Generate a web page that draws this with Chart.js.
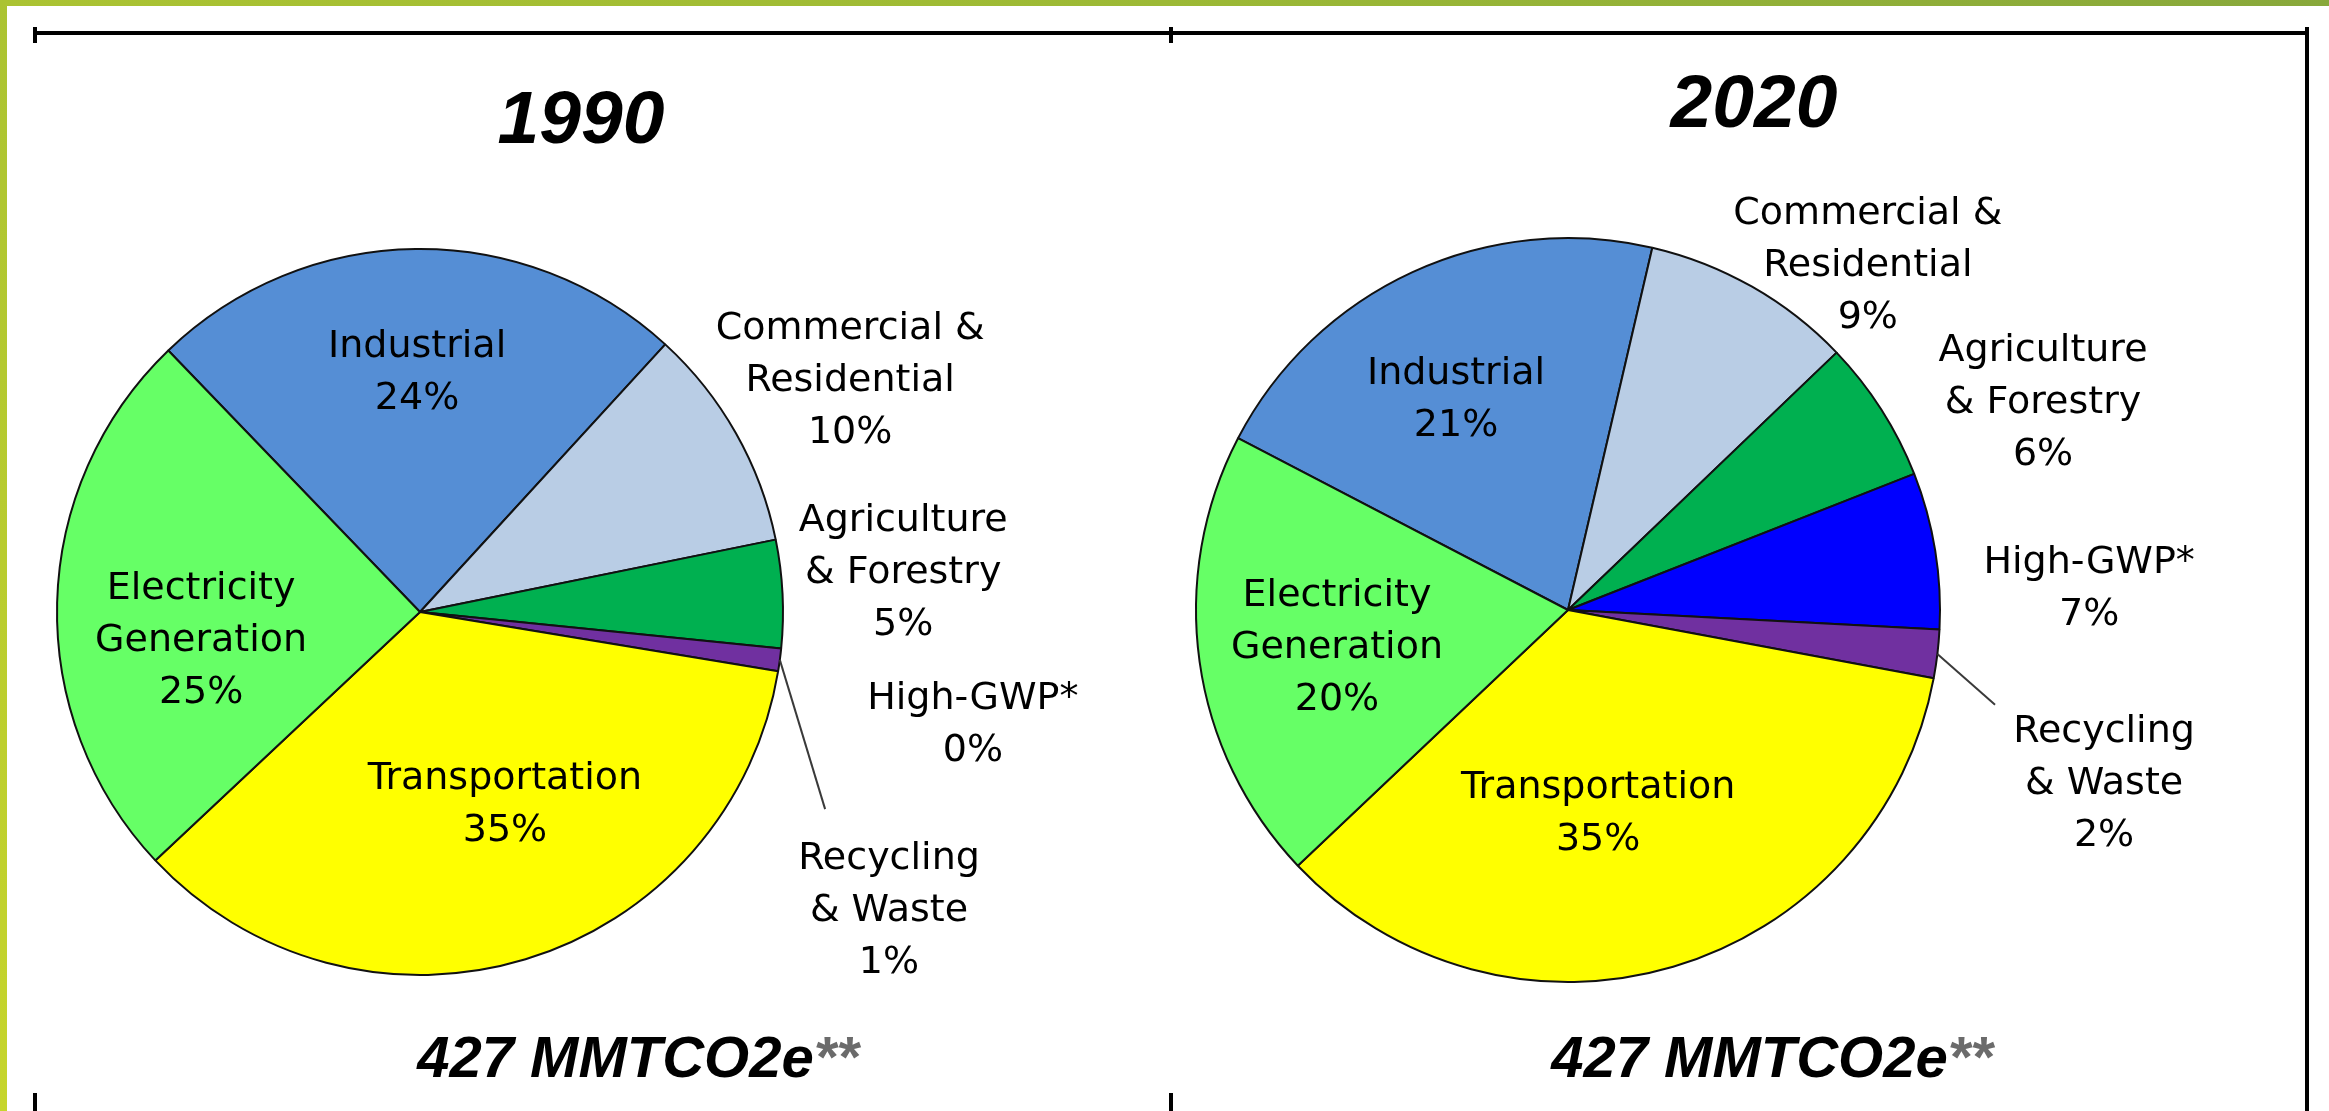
<!DOCTYPE html>
<html>
<head>
<meta charset="utf-8">
<script src="https://cdn.jsdelivr.net/npm/chart.js@4.4.1/dist/chart.umd.min.js"></script>
<style>
  html, body { margin: 0; padding: 0; background: #ffffff; }
  body { width: 2329px; height: 1111px; position: relative; overflow: hidden; }
  .abs { position: absolute; }
  #topGreen { left: 0; top: 0; width: 2329px; height: 6px; background: linear-gradient(90deg, #abc332 0%, #9cb935 50%, #88a83b 100%); }
  #leftGreen { left: 0; top: 0; width: 7px; height: 1111px; background: linear-gradient(180deg, #abc332 0%, #c6d52c 100%); }
  .blk { background: #000; }
  canvas { position: absolute; top: 0; }
</style>
</head>
<body>
<div id="topGreen" class="abs"></div>
<div id="leftGreen" class="abs"></div>
<div class="abs blk" style="left:33px; top:31px; width:2276px; height:4px;"></div>
<div class="abs blk" style="left:33px; top:27px; width:4px; height:16px;"></div>
<div class="abs blk" style="left:1169px; top:27px; width:4px; height:16px;"></div>
<div class="abs blk" style="left:2305px; top:27px; width:4px; height:1084px;"></div>
<div class="abs blk" style="left:33px; top:1093px; width:4px; height:18px;"></div>
<div class="abs blk" style="left:1169px; top:1093px; width:4px; height:18px;"></div>
<canvas id="c1" width="1170" height="1111" style="left:0px;"></canvas>
<canvas id="c2" width="1159" height="1111" style="left:1170px;"></canvas>
<script>
// ---- data ----
const categories = ['Industrial', 'Commercial &\nResidential', 'Agriculture\n& Forestry', 'High-GWP*', 'Recycling\n& Waste', 'Transportation', 'Electricity\nGeneration'];
const values1990 = [24.0, 10.0, 4.8, 0, 1.0, 35.4, 24.8];
const values2020 = [21.0, 9.2, 6.2, 6.8, 2.1, 35.0, 19.7];
const yearTitles = ['1990', '2020'];
const totalLabels = ['427 MMTCO2e', '427 MMTCO2e'];
const totalSuffix = '**';

// ---- styles / layout ----
const sliceColors = ['#558ed5', '#b9cde5', '#00b050', '#0000ff', '#7030a0', '#ffff00', '#66ff66'];
const labelFont = '38px "DejaVu Sans", Verdana, sans-serif';
const lineH = 52;
const capH = 27;

const layouts = [
  { // 1990
    radius: 363, rotation: -43.9,
    padding: { left: 0, right: 330, top: 113, bottom: 0 },
    labelPos: [[-0.008, -0.669], [1.185, -0.645], [1.331, -0.116], [1.523, 0.303], [1.292, 0.815], [0.234, 0.523], [-0.603, 0.069]],
    leader: { index: 4, end: [1.116, 0.543] },
    title: { x: 581, y: 143 }, total: { x: 638, y: 1077 }
  },
  { // 2020
    radius: 372, rotation: -62.5,
    padding: { left: 0, right: 363, top: 109, bottom: 0 },
    labelPos: [[-0.301, -0.575], [0.806, -0.935], [1.277, -0.567], [1.401, -0.065], [1.441, 0.457], [0.081, 0.538], [-0.621, 0.094]],
    leader: { index: 4, end: [1.148, 0.255] },
    title: { x: 584, y: 127 }, total: { x: 602, y: 1077 }
  }
];

const labelPlugin = {
  id: 'sliceLabels',
  afterDatasetsDraw(chart) {
    const cfg = chart.options.plugins.sliceLabels;
    const lay = cfg.layout;
    const ctx = chart.ctx;
    const meta = chart.getDatasetMeta(0);
    const data = chart.data.datasets[0].data;
    const total = data.reduce((a, b) => a + b, 0);
    ctx.save();
    // leader line
    const la = meta.data[lay.leader.index];
    if (la) {
      const mid = (la.startAngle + la.endAngle) / 2;
      const r = la.outerRadius;
      ctx.beginPath();
      ctx.moveTo(la.x + Math.cos(mid) * r, la.y + Math.sin(mid) * r);
      ctx.lineTo(la.x + lay.leader.end[0] * r, la.y + lay.leader.end[1] * r);
      ctx.strokeStyle = '#3a3a3a';
      ctx.lineWidth = 2;
      ctx.stroke();
    }
    // slice labels
    ctx.font = labelFont;
    ctx.fillStyle = '#000';
    ctx.textAlign = 'center';
    ctx.textBaseline = 'alphabetic';
    meta.data.forEach((arc, i) => {
      const r = arc.outerRadius;
      const cx = arc.x + lay.labelPos[i][0] * r;
      const cy = arc.y + lay.labelPos[i][1] * r;
      const lines = chart.data.labels[i].split('\n');
      lines.push(Math.round(data[i] / total * 100) + '%');
      const n = lines.length;
      lines.forEach((t, k) => {
        ctx.fillText(t, cx, cy + (k - (n - 1) / 2) * lineH + capH / 2);
      });
    });
    // title
    ctx.font = 'italic bold 75px "Liberation Sans", Arial, sans-serif';
    ctx.fillText(cfg.title, lay.title.x, lay.title.y);
    // total
    ctx.font = 'italic bold 58px "Liberation Sans", Arial, sans-serif';
    ctx.textAlign = 'left';
    const w1 = ctx.measureText(cfg.total).width;
    const w2 = ctx.measureText(totalSuffix).width;
    const x0 = lay.total.x - (w1 + w2) / 2;
    ctx.fillText(cfg.total, x0, lay.total.y);
    ctx.fillStyle = '#6b6b6b';
    ctx.fillText(totalSuffix, x0 + w1, lay.total.y);
    ctx.restore();
  }
};

function makePie(canvasId, values, idx) {
  const lay = layouts[idx];
  return new Chart(document.getElementById(canvasId), {
    type: 'pie',
    data: {
      labels: categories,
      datasets: [{
        data: values,
        backgroundColor: sliceColors,
        borderColor: '#111111',
        borderWidth: 2
      }]
    },
    options: {
      responsive: false,
      animation: false,
      devicePixelRatio: 1,
      radius: lay.radius,
      rotation: lay.rotation,
      layout: { padding: lay.padding },
      plugins: {
        legend: { display: false },
        tooltip: { enabled: false },
        title: { display: false },
        sliceLabels: { layout: lay, title: yearTitles[idx], total: totalLabels[idx] }
      }
    },
    plugins: [labelPlugin]
  });
}

makePie('c1', values1990, 0);
makePie('c2', values2020, 1);
</script>
</body>
</html>
